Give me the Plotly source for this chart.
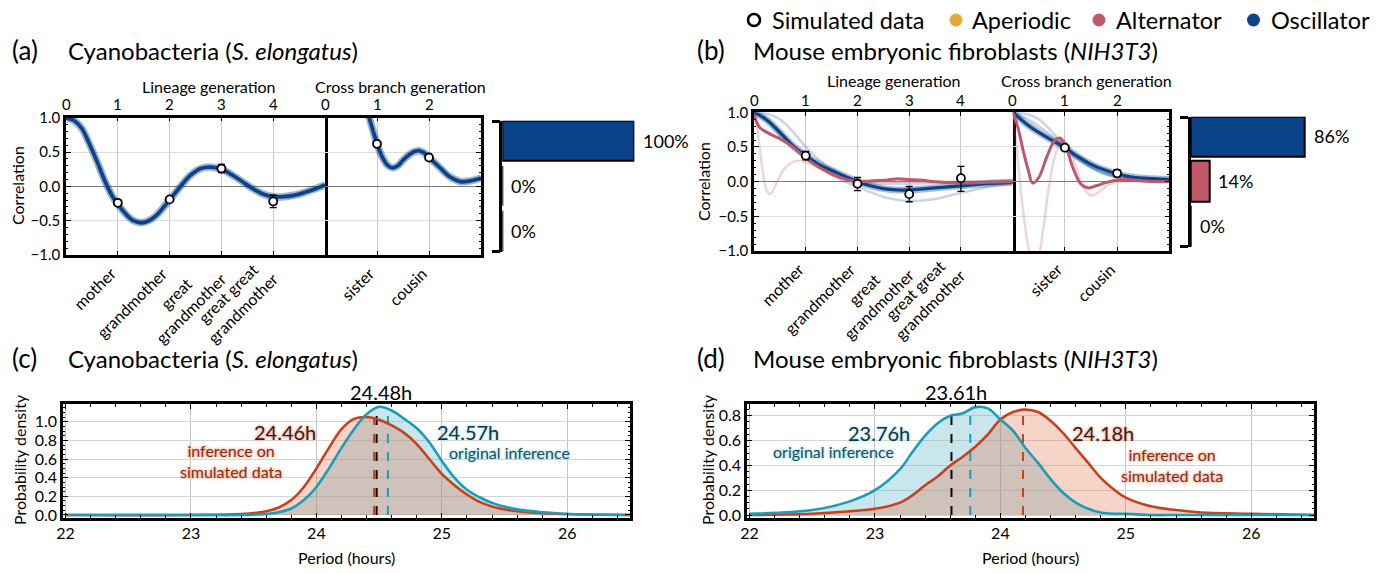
import plotly.graph_objects as go

W, H = 1377, 573

# ---------------- data ----------------
lineage_tick_vals = [0, 1, 2, 3, 4]
lineage_label_vals = [1, 2, 3, 4]
lineage_labels = ["mother", "grandmother", "great<br>grandmother", "great great<br>grandmother"]
cross_tick_vals = [0, 1, 2]
cross_label_vals = [1, 2]
cross_labels = ["sister", "cousin"]
corr_tick_vals = [-1.0, -0.5, 0.0, 0.5, 1.0]

model_names = ["Aperiodic", "Alternator", "Oscillator"]
model_colors = ["#E2A93B", "#C05868", "#0B4288"]

# (a) Cyanobacteria: oscillator fit, lineage generation
a_lin_x = [0, 0.15, 0.3, 0.45, 0.6, 0.75, 0.9, 1.0, 1.15, 1.3, 1.45, 1.6, 1.75, 1.9, 2.0,
           2.2, 2.4, 2.6, 2.8, 3.0, 3.2, 3.4, 3.6, 3.8, 4.0, 4.2, 4.4, 4.6, 4.8, 5.0]
a_lin_osc = [1.0, 0.96, 0.85, 0.62, 0.36, 0.08, -0.15, -0.26, -0.40, -0.50, -0.53, -0.50, -0.42, -0.29, -0.20,
             -0.01, 0.16, 0.26, 0.28, 0.25, 0.17, 0.07, -0.03, -0.11, -0.15, -0.15, -0.13, -0.09, -0.04, 0.02]
a_cross_x = [0.7, 0.78, 0.85, 0.92, 1.0, 1.1, 1.2, 1.3, 1.4, 1.5, 1.6, 1.7, 1.8, 1.9, 2.0, 2.1, 2.2, 2.4, 2.6, 2.8, 3.0]
a_cross_osc = [1.4, 1.18, 1.0, 0.82, 0.62, 0.43, 0.31, 0.27, 0.30, 0.38, 0.45, 0.50, 0.52, 0.49, 0.42, 0.35, 0.28,
               0.14, 0.07, 0.08, 0.12]
a_data_lin_y = [-0.24, -0.19, 0.26, -0.22]
a_data_lin_err = [0.04, 0.04, 0.06, 0.09]
a_data_cross_y = [0.62, 0.42]
a_data_cross_err = [0.03, 0.03]
a_shares = [0, 0, 100]

# (b) Mouse fibroblasts
b_lin_x = [0, 0.25, 0.5, 0.75, 1.0, 1.25, 1.5, 1.75, 2.0, 2.25, 2.5, 2.75, 3.0, 3.5, 4.0, 4.5, 5.0]
b_lin_osc = [1.0, 0.89, 0.71, 0.52, 0.375, 0.25, 0.16, 0.08, 0.0, -0.06, -0.10, -0.12, -0.12, -0.09, -0.06, -0.03, -0.01]
b_lin_osc_lo = [1.0, 0.87, 0.68, 0.50, 0.36, 0.22, 0.10, 0.0, -0.07, -0.15, -0.22, -0.26, -0.28, -0.25, -0.16, -0.08, -0.02]
b_lin_osc_hi = [1.0, 0.98, 0.90, 0.72, 0.50, 0.32, 0.18, 0.08, 0.02, -0.02, -0.03, -0.03, -0.03, -0.02, 0.0, 0.01, 0.02]
b_lin_alt_x = [0, 0.1, 0.25, 0.5, 0.75, 1.0, 1.25, 1.5, 1.75, 2.0, 2.25, 2.5, 2.75, 3.0, 3.25, 3.5, 4.0, 4.5, 5.0]
b_lin_alt = [0.97, 0.79, 0.71, 0.62, 0.50, 0.34, 0.21, 0.11, 0.04, 0.0, 0.01, 0.02, 0.04, 0.03, 0.02, 0.0, -0.02, -0.01, 0.0]
b_lin_alt2_x = [0, 0.05, 0.1, 0.15, 0.2, 0.25, 0.3, 0.35, 0.4, 0.5, 0.6, 0.75, 0.9, 1.0, 1.25, 1.5, 1.75, 2.0,
                2.5, 3.0, 4.0, 5.0]
b_lin_alt2 = [1.0, 0.85, 0.55, 0.25, 0.0, -0.13, -0.18, -0.15, -0.08, 0.08, 0.20, 0.28, 0.30, 0.28, 0.20, 0.10, 0.03,
              0.0, 0.0, 0.0, 0.0, 0.0]
b_cross_x = [0, 0.25, 0.5, 0.75, 1.0, 1.25, 1.5, 1.75, 2.0, 2.25, 2.5, 2.75, 3.0]
b_cross_osc = [1.0, 0.84, 0.71, 0.60, 0.49, 0.36, 0.25, 0.17, 0.11, 0.07, 0.05, 0.04, 0.03]
b_cross_osc_hi = [1.0, 0.98, 0.90, 0.72, 0.50, 0.32, 0.20, 0.12, 0.07, 0.05, 0.04, 0.04, 0.04]
b_cross_osc_mid = [1.0, 0.92, 0.80, 0.66, 0.50, 0.34, 0.21, 0.11, 0.06, 0.04, 0.03, 0.03, 0.03]
b_cross_alt_x = [0, 0.1, 0.2, 0.3, 0.38, 0.5, 0.65, 0.8, 0.9, 1.0, 1.15, 1.3, 1.45, 1.6, 1.8, 2.0, 2.2, 2.5, 2.8, 3.0]
b_cross_alt = [1.0, 0.78, 0.45, 0.16, -0.02, 0.06, 0.35, 0.59, 0.63, 0.54, 0.21, -0.03, -0.09, -0.06, -0.01, 0.02,
               0.03, 0.01, 0.0, 0.0]
b_cross_alt2_x = [0, 0.08, 0.18, 0.3, 0.38, 0.48, 0.58, 0.7, 0.82, 0.95, 1.05, 1.2, 1.35, 1.5, 1.65, 1.8, 2.0, 2.5, 3.0]
b_cross_alt2 = [1.0, 0.45, -0.30, -0.95, -1.15, -1.10, -0.70, -0.05, 0.40, 0.60, 0.55, 0.25, -0.08, -0.20, -0.15,
                -0.06, 0.0, 0.0, 0.0]
b_data_lin_y = [0.375, -0.03, -0.18, 0.05]
b_data_lin_plus = [0.06, 0.09, 0.11, 0.17]
b_data_lin_minus = [0.06, 0.10, 0.11, 0.19]
b_data_cross_y = [0.49, 0.12]
b_data_cross_err = [0.03, 0.05]
b_shares = [0, 14, 86]

# (c) period posterior, cyanobacteria
c_x = [22.0, 23.0, 23.4, 23.6, 23.7, 23.8, 23.9, 24.0, 24.1, 24.2, 24.3, 24.4, 24.5, 24.6, 24.7, 24.8, 24.9,
       25.0, 25.1, 25.2, 25.3, 25.4, 25.5, 25.6, 25.8, 26.0, 26.5]
c_sim = [0.0, 0.0, 0.01, 0.04, 0.08, 0.16, 0.30, 0.50, 0.72, 0.92, 1.03, 1.05, 1.02, 0.96, 0.88, 0.76, 0.60,
         0.44, 0.32, 0.22, 0.14, 0.09, 0.06, 0.04, 0.02, 0.01, 0.0]
c_orig = [0.0, 0.0, 0.0, 0.01, 0.03, 0.07, 0.16, 0.30, 0.50, 0.72, 0.92, 1.08, 1.16, 1.12, 1.03, 0.93, 0.78,
          0.58, 0.40, 0.27, 0.19, 0.13, 0.09, 0.06, 0.03, 0.01, 0.0]
c_medians = [24.46, 24.48, 24.57]      # simulated inference, true value, original inference
c_median_h = [1.04, 1.14, 1.14]

# (d) period posterior, fibroblasts
d_x = [22.0, 22.5, 22.8, 23.0, 23.2, 23.3, 23.4, 23.5, 23.6, 23.7, 23.8, 23.9, 24.0, 24.1, 24.2, 24.3, 24.4,
       24.5, 24.6, 24.7, 24.8, 24.9, 25.0, 25.2, 25.4, 25.6, 26.0, 26.5]
d_orig = [0.01, 0.04, 0.11, 0.20, 0.37, 0.51, 0.64, 0.74, 0.80, 0.82, 0.87, 0.86, 0.77, 0.68, 0.54, 0.42, 0.29,
          0.18, 0.10, 0.05, 0.02, 0.01, 0.01, 0.0, 0.0, 0.0, 0.0, 0.0]
d_sim = [0.0, 0.01, 0.03, 0.05, 0.10, 0.16, 0.24, 0.31, 0.40, 0.47, 0.55, 0.65, 0.77, 0.83, 0.85, 0.83, 0.76,
         0.66, 0.54, 0.42, 0.30, 0.21, 0.14, 0.07, 0.04, 0.02, 0.01, 0.0]
d_medians = [24.18, 23.61, 23.76]
d_median_h = [0.85, 0.80, 0.86]

period_ticks = [22, 23, 24, 25, 26]
density_ticks_c = [0.0, 0.2, 0.4, 0.6, 0.8, 1.0]
density_ticks_d = [0.0, 0.2, 0.4, 0.6, 0.8]

# ---------------- styling helpers ----------------
FONT = "Lato"
NAVY = model_colors[2]
ROSE = model_colors[1]
ORANGE = "#C8401C"
TEAL = "#1B9CB8"


def PX(x):
    return x / W


def PY(y):
    return 1 - y / H


fig = go.Figure()


def add_line(x, y, xa, ya, color, width):
    fig.add_trace(go.Scatter(x=x, y=y, xaxis=xa, yaxis=ya, mode="lines",
                             line=dict(color=color, width=width, shape="spline", smoothing=1.0),
                             hoverinfo="skip", showlegend=False))


def add_points(x, y, plus, minus, xa, ya):
    fig.add_trace(go.Scatter(x=x, y=y, xaxis=xa, yaxis=ya, mode="markers",
                             marker=dict(size=8, color="white", line=dict(color="black", width=1.8)),
                             error_y=dict(type="data", array=plus, arrayminus=minus, color="black",
                                          thickness=1.3, width=3.5),
                             showlegend=False))


def add_bars(shares, xa, ya):
    fig.add_trace(go.Bar(x=shares, y=[0, 1, 2], orientation="h", xaxis=xa, yaxis=ya, width=0.9,
                         marker=dict(color=model_colors, line=dict(color="black", width=2)),
                         showlegend=False))
    for i, v in enumerate(shares):
        fig.add_annotation(x=v, y=i, xref=xa, yref=ya, text=f"{v}%", showarrow=False,
                           xanchor="left", xshift=7, font=dict(size=18, color="black"))


# (a) curves
add_line(a_lin_x, a_lin_osc, "x", "y", "rgba(11,66,136,0.4)", 7.5)
add_line(a_lin_x, a_lin_osc, "x", "y", NAVY, 3.8)
add_line(a_cross_x, a_cross_osc, "x3", "y3", "rgba(11,66,136,0.4)", 7.5)
add_line(a_cross_x, a_cross_osc, "x3", "y3", NAVY, 3.8)
add_points(lineage_label_vals, a_data_lin_y, a_data_lin_err, a_data_lin_err, "x", "y")
add_points(cross_label_vals, a_data_cross_y, a_data_cross_err, a_data_cross_err, "x3", "y3")
add_bars(a_shares, "x5", "y5")

# (b) curves
light_blue = "rgba(11,66,136,0.22)"
light_rose = "rgba(192,88,104,0.25)"
add_line(b_lin_alt2_x, b_lin_alt2, "x6", "y6", light_rose, 2.5)
add_line(b_lin_x, b_lin_osc_lo, "x6", "y6", light_blue, 2.5)
add_line(b_lin_x, b_lin_osc_hi, "x6", "y6", light_blue, 2.5)
add_line(b_lin_x, b_lin_osc, "x6", "y6", "rgba(11,66,136,0.35)", 7)
add_line(b_lin_x, b_lin_osc, "x6", "y6", NAVY, 3.2)
add_line(b_lin_alt_x, b_lin_alt, "x6", "y6", ROSE, 3)
add_line(b_cross_alt2_x, b_cross_alt2, "x8", "y8", light_rose, 2.5)
add_line(b_cross_x, b_cross_osc_hi, "x8", "y8", light_blue, 2.5)
add_line(b_cross_x, b_cross_osc_mid, "x8", "y8", light_blue, 2.5)
add_line(b_cross_x, b_cross_osc, "x8", "y8", "rgba(11,66,136,0.35)", 7)
add_line(b_cross_x, b_cross_osc, "x8", "y8", NAVY, 3.2)
add_line(b_cross_alt_x, b_cross_alt, "x8", "y8", ROSE, 3)
add_points(lineage_label_vals, b_data_lin_y, b_data_lin_plus, b_data_lin_minus, "x6", "y6")
add_points(cross_label_vals, b_data_cross_y, b_data_cross_err, b_data_cross_err, "x8", "y8")
add_bars(b_shares, "x10", "y10")


# (c), (d) period densities
def add_density(x, orig, sim, medians, med_h, xa, ya):
    fig.add_trace(go.Scatter(x=x, y=orig, xaxis=xa, yaxis=ya, mode="none", fill="tozeroy",
                             fillcolor="rgba(98,184,201,0.35)", line=dict(shape="spline"), showlegend=False))
    fig.add_trace(go.Scatter(x=x, y=sim, xaxis=xa, yaxis=ya, mode="none", fill="tozeroy",
                             fillcolor="rgba(225,112,72,0.30)", line=dict(shape="spline"), showlegend=False))
    for m, h, col in zip(medians, med_h, [ORANGE, "black", TEAL]):
        fig.add_trace(go.Scatter(x=[m, m], y=[0, h], xaxis=xa, yaxis=ya, mode="lines",
                                 line=dict(color=col, width=2, dash="dash"), showlegend=False))
    add_line(x, sim, xa, ya, ORANGE, 2.6)
    add_line(x, orig, xa, ya, TEAL, 2.6)


add_density(c_x, c_orig, c_sim, c_medians, c_median_h, "x11", "y11")
add_density(d_x, d_orig, d_sim, d_medians, d_median_h, "x12", "y12")

# ---------------- axes ----------------
frame = dict(showline=True, linecolor="black", linewidth=2.5, automargin=False)
minor_y = dict(ticks="inside", ticklen=2.5, tickwidth=1, tickcolor="black", tickmode="linear",
               tick0=0, dtick=0.1, showgrid=False)


def gen_axis(dom, rng, anchor, vals):
    return dict(domain=dom, range=rng, anchor=anchor, side="bottom", tickvals=vals, showticklabels=False,
                ticks="inside", ticklen=4, tickwidth=1.3, tickcolor="black",
                showgrid=True, gridcolor="#c9c9c9", gridwidth=1, zeroline=False,
                mirror="allticks", **frame)


def corr_y(dom, anchor, side, labels):
    # the cross-branch panel shares its left edge with the lineage panel's right edge
    return dict(domain=dom, range=[-1, 1], anchor=anchor, side=side, tickvals=corr_tick_vals,
                tickformat=".1f", showticklabels=labels, minor=minor_y, showgrid=True, gridcolor="#dcdcdc",
                zeroline=True, zerolinecolor="#7a7a7a", zerolinewidth=1, mirror=labels,
                ticks="inside", ticklen=5, tickwidth=1.3, tickcolor="black", tickfont=dict(size=15), **frame)


def bar_axes(xdom, ydom, yanchor, xanchor):
    xa = dict(domain=xdom, range=[0, 100], anchor=yanchor, visible=False, automargin=False)
    ya = dict(domain=ydom, range=[-0.46, 2.44], anchor=xanchor, tickvals=[-0.45, 2.43], ticks="outside",
              ticklen=8, tickwidth=2.5, tickcolor="black", showticklabels=False, showgrid=False,
              zeroline=False, showline=True, linecolor="black", linewidth=2.5, automargin=False)
    return xa, ya


def period_axes(xdom, anchor_y, anchor_x, yrange, yticks):
    common = dict(ticks="inside", ticklen=5, tickwidth=1.3, tickcolor="black", tickfont=dict(size=16),
                  zeroline=False, mirror="allticks", **frame)
    xa = dict(domain=xdom, range=[21.98, 26.5], anchor=anchor_y, tickvals=period_ticks,
              minor=dict(ticks="inside", ticklen=3, tickwidth=1, tickcolor="black", tickmode="linear",
                         tick0=22, dtick=0.2, showgrid=False),
              showgrid=True, gridcolor="#c4c4c4", **common)
    ya = dict(domain=[PY(517.5), PY(404)], range=yrange, anchor=anchor_x, tickvals=yticks, tickformat=".1f",
              minor=dict(ticks="inside", ticklen=2.5, tickwidth=1, tickcolor="black", tickmode="linear",
                         tick0=0, dtick=0.05, showgrid=False),
              showgrid=True, gridcolor="#d4d4d4", **common)
    return xa, ya


A_TOP, A_BOT = 117.7, 255
B_TOP, B_BOT = 112.3, 251
a_ydom = [PY(A_BOT), PY(A_TOP)]
b_ydom = [PY(B_BOT), PY(B_TOP)]
layout_axes = {}
layout_axes["xaxis"] = gen_axis([PX(66), PX(325)], [0, 5], "y", lineage_tick_vals)
layout_axes["yaxis"] = corr_y(a_ydom, "x", "left", True)
layout_axes["xaxis3"] = gen_axis([PX(325), PX(481)], [0, 3], "y3", cross_tick_vals)
layout_axes["yaxis3"] = corr_y(a_ydom, "x3", "right", False)
layout_axes["xaxis5"], layout_axes["yaxis5"] = bar_axes([PX(502.3), PX(634.3)], [PY(251.7), PY(120.7)], "y5", "x5")

layout_axes["xaxis6"] = gen_axis([PX(754), PX(1012.7)], [0, 5], "y6", lineage_tick_vals)
layout_axes["yaxis6"] = corr_y(b_ydom, "x6", "left", True)
layout_axes["xaxis8"] = gen_axis([PX(1012.7), PX(1169.3)], [0, 3], "y8", cross_tick_vals)
layout_axes["yaxis8"] = corr_y(b_ydom, "x8", "right", False)
layout_axes["xaxis10"], layout_axes["yaxis10"] = bar_axes([PX(1190.7), PX(1323.6)], [PY(246.7), PY(116.7)],
                                                          "y10", "x10")

layout_axes["xaxis11"], layout_axes["yaxis11"] = period_axes([PX(63), PX(630)], "y11", "x11",
                                                             [-0.027, 1.19], density_ticks_c)
layout_axes["xaxis12"], layout_axes["yaxis12"] = period_axes([PX(747), PX(1314)], "y12", "x12",
                                                             [-0.02, 0.895], density_ticks_d)

fig.update_layout(template="none")
fig.update_layout(**layout_axes)
fig.update_layout(width=W, height=H, margin=dict(l=0, r=0, t=0, b=0, pad=0, autoexpand=False),
                  paper_bgcolor="white", plot_bgcolor="white", font=dict(family=FONT, color="black"),
                  showlegend=False, bargap=0, hovermode=False)


# ---------------- text ----------------
def ptext(x, y, text, size, xanchor="left", angle=0, color="black", shadow=None):
    f = dict(size=size, color=color, family=FONT)
    if shadow:
        f["shadow"] = shadow
    fig.add_annotation(x=PX(x), y=PY(y), xref="paper", yref="paper", text=text, showarrow=False,
                       xanchor=xanchor, yanchor="middle", textangle=angle, font=f)


# generation numbers along the top frames
for xa, vals, ypx in [("x", lineage_tick_vals, 104), ("x3", cross_tick_vals, 104),
                      ("x6", lineage_tick_vals, 100), ("x8", cross_tick_vals, 100)]:
    for v in vals:
        fig.add_annotation(x=v, y=PY(ypx), xref=xa, yref="paper", text=str(v), showarrow=False,
                           xanchor="center", yanchor="middle", font=dict(size=15, family=FONT))

# rotated relative names below the frames
for xa, vals, texts, axis_y in [("x", lineage_label_vals, lineage_labels, A_BOT),
                                ("x3", cross_label_vals, cross_labels, A_BOT),
                                ("x6", lineage_label_vals, lineage_labels, B_BOT),
                                ("x8", cross_label_vals, cross_labels, B_BOT)]:
    for v, t in zip(vals, texts):
        two = "<br>" in t
        fig.add_annotation(x=v, y=PY(axis_y + (-3 if two else 6)), xref=xa, yref="paper", text=t,
                           textangle=-45, xanchor="right", yanchor="top", xshift=11 if two else 4,
                           align="center", showarrow=False, font=dict(size=16, family=FONT))

ptext(10, 50, "(a)", 26)
ptext(66, 50, "Cyanobacteria (<i>S. elongatus</i>)", 24)
ptext(695, 50, "(b)", 26)
ptext(751, 50, "Mouse embryonic fibroblasts (<i>NIH3T3</i>)", 24)
ptext(10, 358, "(c)", 26)
ptext(66, 358, "Cyanobacteria (<i>S. elongatus</i>)", 24)
ptext(695, 358, "(d)", 26)
ptext(751, 358, "Mouse embryonic fibroblasts (<i>NIH3T3</i>)", 24)

ptext(209, 86, "Lineage generation", 16, "center")
ptext(400, 86, "Cross branch generation", 16, "center")
ptext(894, 81, "Lineage generation", 16, "center")
ptext(1086, 81, "Cross branch generation", 16, "center")
ptext(17, 186, "Correlation", 16, "center", -90)
ptext(703, 182, "Correlation", 16, "center", -90)
ptext(19, 460, "Probability density", 16, "center", -90)
ptext(707, 460, "Probability density", 16, "center", -90)
ptext(346.5, 557, "Period (hours)", 16, "center")
ptext(1030.5, 557, "Period (hours)", 16, "center")

# legend
legend_items = [("Simulated data", 754, 770, "white")] + [
    (n, dx, tx, c) for n, dx, tx, c in zip(model_names, [956, 1099, 1253.5], [970, 1114, 1269], model_colors)]
for name, dot_x, text_x, col in legend_items:
    ring = col == "white"
    fig.add_shape(type="circle", xref="paper", yref="paper", xsizemode="pixel", ysizemode="pixel",
                  xanchor=PX(dot_x), yanchor=PY(20), x0=-6 if ring else -6.5, x1=6 if ring else 6.5,
                  y0=-6 if ring else -6.5, y1=6 if ring else 6.5, fillcolor=col,
                  line=dict(color="black" if ring else col, width=2.6 if ring else 0))
    ptext(text_x, 20, name, 23.5)

# period labels
SALMON_HALO = "0 0 2px #f6b9a6, 0 0 3px #f6b9a6, 0 0 4px #f6b9a6"
CYAN_HALO = "0 0 2px #bfe7f0, 0 0 3px #bfe7f0, 0 0 4px #bfe7f0"


def dtext(x, y, xa, ya, text, size, color, shadow):
    fig.add_annotation(x=x, y=y, xref=xa, yref=ya, text=text, showarrow=False, xanchor="center",
                       yanchor="middle", font=dict(size=size, color=color, family=FONT, shadow=shadow))


ptext(381, 392, f"{c_medians[1]:.2f}h", 20, "center")
dtext(23.75, 0.89, "x11", "y11", f"{c_medians[0]:.2f}h", 20, "#3a1a12", SALMON_HALO)
dtext(23.32, 0.58, "x11", "y11", "inference on<br>simulated data", 16, "#8a2e12", SALMON_HALO)
dtext(25.21, 0.89, "x11", "y11", f"{c_medians[2]:.2f}h", 20, "#0e3440", CYAN_HALO)
dtext(25.54, 0.675, "x11", "y11", "original inference", 16, "#18505e", CYAN_HALO)

ptext(955.7, 392, f"{d_medians[1]:.2f}h", 20, "center")
dtext(23.03, 0.66, "x12", "y12", f"{d_medians[2]:.2f}h", 20, "#0e3440", CYAN_HALO)
dtext(22.67, 0.51, "x12", "y12", "original inference", 16, "#18505e", CYAN_HALO)
dtext(24.82, 0.66, "x12", "y12", f"{d_medians[0]:.2f}h", 20, "#3a1a12", SALMON_HALO)
dtext(25.37, 0.40, "x12", "y12", "inference on<br>simulated data", 16, "#8a2e12", SALMON_HALO)

# the page's default 8px body margin would otherwise offset the whole figure
fig.write_html("out.html", config={"displayModeBar": False},
               post_script="document.body.style.margin='0px';")
